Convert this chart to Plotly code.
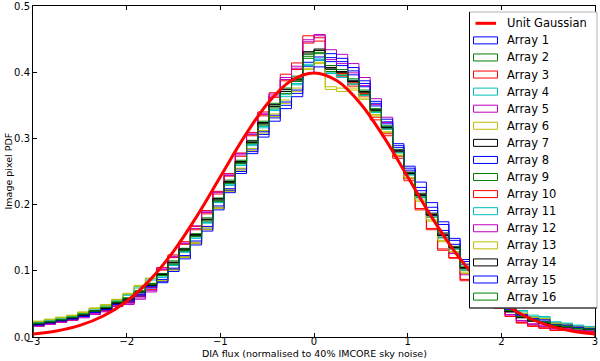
import plotly.graph_objects as go

# ---------- data ----------
BIN_LO, BIN_HI, N_BINS = -3.0, 3.0, 50

GAUSS_X = [-3.0, -2.75, -2.5, -2.25, -2.0, -1.75, -1.5, -1.25, -1.0, -0.75, -0.5, -0.25, 0.0,
           0.25, 0.5, 0.75, 1.0, 1.25, 1.5, 1.75, 2.0, 2.25, 2.5, 2.75, 3.0]
GAUSS_Y = [0.0044, 0.0091, 0.0175, 0.0317, 0.0540, 0.0863, 0.1295, 0.1826, 0.2420, 0.3011, 0.3521, 0.3867, 0.3989,
           0.3867, 0.3521, 0.3011, 0.2420, 0.1826, 0.1295, 0.0863, 0.0540, 0.0317, 0.0175, 0.0091, 0.0044]

ARRAY_1 = [0.019, 0.022, 0.025, 0.028, 0.032, 0.038, 0.042, 0.050, 0.055, 0.064,
           0.076, 0.084, 0.102, 0.121, 0.142, 0.163, 0.195, 0.221, 0.250, 0.280,
           0.306, 0.331, 0.350, 0.368, 0.415, 0.423, 0.422, 0.416, 0.402, 0.383,
           0.353, 0.325, 0.289, 0.255, 0.226, 0.196, 0.174, 0.149, 0.114, 0.088,
           0.070, 0.053, 0.041, 0.032, 0.026, 0.024, 0.018, 0.017, 0.014, 0.012]
ARRAY_2 = [0.020, 0.023, 0.026, 0.029, 0.034, 0.039, 0.044, 0.052, 0.058, 0.068,
           0.079, 0.094, 0.112, 0.132, 0.154, 0.177, 0.207, 0.234, 0.264, 0.294,
           0.322, 0.349, 0.371, 0.389, 0.421, 0.428, 0.404, 0.399, 0.385, 0.369,
           0.342, 0.316, 0.280, 0.246, 0.213, 0.183, 0.153, 0.134, 0.103, 0.085,
           0.068, 0.052, 0.039, 0.031, 0.025, 0.022, 0.017, 0.016, 0.013, 0.012]
ARRAY_3 = [0.018, 0.021, 0.024, 0.027, 0.032, 0.037, 0.041, 0.049, 0.054, 0.063,
           0.075, 0.105, 0.124, 0.144, 0.167, 0.191, 0.220, 0.247, 0.278, 0.309,
           0.340, 0.369, 0.397, 0.414, 0.455, 0.452, 0.410, 0.398, 0.384, 0.368,
           0.332, 0.307, 0.273, 0.239, 0.192, 0.162, 0.131, 0.119, 0.085, 0.071,
           0.057, 0.044, 0.031, 0.022, 0.017, 0.014, 0.010, 0.010, 0.008, 0.007]
ARRAY_4 = [0.023, 0.026, 0.029, 0.032, 0.037, 0.043, 0.048, 0.056, 0.064, 0.076,
           0.088, 0.092, 0.109, 0.129, 0.151, 0.173, 0.204, 0.230, 0.260, 0.291,
           0.318, 0.344, 0.366, 0.383, 0.412, 0.420, 0.400, 0.395, 0.388, 0.366,
           0.340, 0.318, 0.282, 0.248, 0.212, 0.185, 0.150, 0.136, 0.105, 0.100,
           0.080, 0.060, 0.047, 0.040, 0.033, 0.031, 0.023, 0.021, 0.018, 0.016]
ARRAY_5 = [0.016, 0.019, 0.022, 0.025, 0.029, 0.034, 0.038, 0.046, 0.049, 0.057,
           0.068, 0.104, 0.122, 0.142, 0.168, 0.190, 0.219, 0.246, 0.277, 0.308,
           0.338, 0.367, 0.392, 0.409, 0.449, 0.457, 0.434, 0.427, 0.413, 0.392,
           0.360, 0.332, 0.283, 0.249, 0.217, 0.187, 0.157, 0.128, 0.096, 0.075,
           0.060, 0.046, 0.033, 0.024, 0.019, 0.016, 0.012, 0.012, 0.010, 0.008]
ARRAY_6 = [0.024, 0.027, 0.030, 0.033, 0.038, 0.044, 0.049, 0.057, 0.066, 0.078,
           0.081, 0.086, 0.103, 0.122, 0.143, 0.165, 0.196, 0.223, 0.252, 0.282,
           0.308, 0.333, 0.353, 0.371, 0.404, 0.413, 0.374, 0.376, 0.373, 0.359,
           0.334, 0.309, 0.274, 0.240, 0.205, 0.175, 0.144, 0.128, 0.096, 0.093,
           0.074, 0.056, 0.043, 0.035, 0.029, 0.027, 0.020, 0.018, 0.016, 0.014]
ARRAY_7 = [0.020, 0.023, 0.026, 0.029, 0.034, 0.040, 0.044, 0.052, 0.058, 0.069,
           0.080, 0.094, 0.112, 0.131, 0.153, 0.177, 0.207, 0.233, 0.263, 0.294,
           0.322, 0.348, 0.371, 0.388, 0.429, 0.435, 0.407, 0.401, 0.387, 0.371,
           0.343, 0.317, 0.282, 0.248, 0.215, 0.185, 0.155, 0.136, 0.105, 0.084,
           0.067, 0.051, 0.038, 0.030, 0.024, 0.021, 0.016, 0.015, 0.013, 0.011]
ARRAY_8 = [0.019, 0.022, 0.025, 0.028, 0.033, 0.038, 0.042, 0.050, 0.056, 0.065,
           0.077, 0.087, 0.104, 0.123, 0.145, 0.167, 0.198, 0.224, 0.254, 0.284,
           0.310, 0.335, 0.355, 0.373, 0.409, 0.418, 0.416, 0.410, 0.396, 0.378,
           0.349, 0.322, 0.286, 0.252, 0.221, 0.191, 0.161, 0.140, 0.110, 0.086,
           0.069, 0.054, 0.040, 0.033, 0.025, 0.023, 0.019, 0.016, 0.014, 0.013]
ARRAY_9 = [0.021, 0.024, 0.027, 0.030, 0.034, 0.040, 0.045, 0.053, 0.059, 0.070,
           0.081, 0.096, 0.115, 0.134, 0.156, 0.180, 0.210, 0.237, 0.267, 0.297,
           0.326, 0.353, 0.376, 0.394, 0.427, 0.433, 0.401, 0.396, 0.382, 0.366,
           0.340, 0.314, 0.279, 0.245, 0.211, 0.181, 0.150, 0.133, 0.101, 0.083,
           0.068, 0.051, 0.039, 0.030, 0.025, 0.021, 0.017, 0.016, 0.013, 0.012]
ARRAY_10 = [0.017, 0.020, 0.023, 0.026, 0.031, 0.036, 0.040, 0.048, 0.052, 0.061,
            0.072, 0.101, 0.120, 0.140, 0.162, 0.186, 0.216, 0.243, 0.273, 0.304,
            0.334, 0.362, 0.387, 0.404, 0.444, 0.447, 0.398, 0.393, 0.379, 0.364,
            0.328, 0.304, 0.270, 0.236, 0.194, 0.164, 0.133, 0.120, 0.087, 0.070,
            0.056, 0.043, 0.031, 0.021, 0.016, 0.013, 0.010, 0.011, 0.009, 0.008]
ARRAY_11 = [0.022, 0.025, 0.028, 0.031, 0.036, 0.042, 0.047, 0.055, 0.063, 0.074,
            0.086, 0.090, 0.108, 0.128, 0.149, 0.172, 0.203, 0.229, 0.259, 0.289,
            0.316, 0.342, 0.363, 0.381, 0.410, 0.418, 0.398, 0.392, 0.382, 0.365,
            0.339, 0.314, 0.278, 0.245, 0.210, 0.181, 0.150, 0.133, 0.101, 0.097,
            0.078, 0.058, 0.045, 0.038, 0.031, 0.029, 0.022, 0.020, 0.017, 0.015]
ARRAY_12 = [0.017, 0.020, 0.023, 0.026, 0.030, 0.035, 0.039, 0.047, 0.051, 0.059,
            0.070, 0.102, 0.121, 0.141, 0.164, 0.188, 0.218, 0.244, 0.275, 0.306,
            0.336, 0.364, 0.389, 0.406, 0.446, 0.455, 0.419, 0.413, 0.399, 0.380,
            0.351, 0.324, 0.281, 0.247, 0.214, 0.184, 0.154, 0.126, 0.094, 0.076,
            0.061, 0.047, 0.034, 0.025, 0.020, 0.017, 0.013, 0.013, 0.010, 0.009]
ARRAY_13 = [0.023, 0.026, 0.029, 0.032, 0.037, 0.043, 0.048, 0.056, 0.065, 0.077,
            0.089, 0.085, 0.101, 0.120, 0.141, 0.162, 0.194, 0.220, 0.255, 0.285,
            0.312, 0.337, 0.358, 0.376, 0.406, 0.415, 0.378, 0.371, 0.376, 0.361,
            0.336, 0.310, 0.275, 0.241, 0.207, 0.177, 0.146, 0.129, 0.098, 0.094,
            0.075, 0.057, 0.044, 0.036, 0.030, 0.028, 0.021, 0.019, 0.016, 0.014]
ARRAY_14 = [0.019, 0.022, 0.025, 0.028, 0.033, 0.039, 0.043, 0.051, 0.057, 0.067,
            0.078, 0.095, 0.113, 0.133, 0.155, 0.178, 0.209, 0.235, 0.265, 0.296,
            0.324, 0.351, 0.374, 0.391, 0.431, 0.433, 0.405, 0.400, 0.386, 0.370,
            0.343, 0.316, 0.281, 0.247, 0.214, 0.184, 0.153, 0.135, 0.104, 0.085,
            0.066, 0.050, 0.038, 0.029, 0.024, 0.020, 0.016, 0.015, 0.012, 0.011]
ARRAY_15 = [0.018, 0.021, 0.024, 0.027, 0.031, 0.037, 0.041, 0.049, 0.053, 0.062,
            0.074, 0.082, 0.099, 0.118, 0.139, 0.160, 0.192, 0.218, 0.247, 0.277,
            0.302, 0.326, 0.345, 0.363, 0.398, 0.408, 0.428, 0.421, 0.407, 0.387,
            0.356, 0.329, 0.292, 0.258, 0.234, 0.203, 0.170, 0.146, 0.117, 0.091,
            0.073, 0.055, 0.042, 0.034, 0.028, 0.026, 0.019, 0.018, 0.015, 0.013]
ARRAY_16 = [0.021, 0.023, 0.026, 0.030, 0.035, 0.039, 0.045, 0.053, 0.059, 0.068,
            0.080, 0.093, 0.110, 0.130, 0.152, 0.175, 0.205, 0.232, 0.262, 0.292,
            0.320, 0.346, 0.368, 0.386, 0.424, 0.430, 0.410, 0.404, 0.390, 0.373,
            0.345, 0.319, 0.283, 0.249, 0.217, 0.187, 0.157, 0.137, 0.107, 0.086,
            0.069, 0.053, 0.040, 0.031, 0.026, 0.023, 0.018, 0.016, 0.013, 0.012]

ARRAYS = [ARRAY_1, ARRAY_2, ARRAY_3, ARRAY_4, ARRAY_5, ARRAY_6, ARRAY_7, ARRAY_8,
          ARRAY_9, ARRAY_10, ARRAY_11, ARRAY_12, ARRAY_13, ARRAY_14, ARRAY_15, ARRAY_16]
ARRAY_NAMES = [f"Array {i}" for i in range(1, 17)]
GAUSS_NAME = "Unit Gaussian"

# matplotlib classic colour cycle b g r c m y k
CYCLE = ["#0000ff", "#008000", "#ff0000", "#00bfbf", "#bf00bf", "#bfbf00", "#000000"]

X_TICKS = [-3, -2, -1, 0, 1, 2, 3]
Y_TICKS = [0.0, 0.1, 0.2, 0.3, 0.4, 0.5]

# ---------- layout geometry (pixels) ----------
W, H = 600, 361
ML, MR, MT, MB = 33, 5, 6, 24
PW, PH = W - ML - MR, H - MT - MB


def px_x(p):
    return (p - ML) / PW


def px_y(p):
    return (H - MB - p) / PH


def step_outline(values):
    """Closed step outline like matplotlib histtype='step'."""
    w = (BIN_HI - BIN_LO) / N_BINS
    xs, ys = [BIN_LO], [0.0]
    for i, v in enumerate(values):
        x0 = BIN_LO + i * w
        xs += [x0, x0 + w]
        ys += [v, v]
    xs.append(BIN_HI)
    ys.append(0.0)
    return xs, ys


fig = go.Figure()

for i, (name, vals) in enumerate(zip(ARRAY_NAMES, ARRAYS)):
    xs, ys = step_outline(vals)
    fig.add_trace(go.Scatter(
        x=xs, y=ys, mode="lines", name=name,
        line=dict(color=CYCLE[i % 7], width=1),
        showlegend=False, hoverinfo="skip",
    ))

fig.add_trace(go.Scatter(
    x=GAUSS_X, y=GAUSS_Y, mode="lines", name=GAUSS_NAME,
    line=dict(color="#ff0000", width=3, shape="spline"),
    showlegend=False,
))

# ---------- legend box drawn in the matplotlib manner ----------
LEG_L, LEG_R, LEG_T, LEG_B = 469.5, 597, 12, 308
ROW0, ROW_STEP = 23.3, 17.08
shapes = [
    dict(type="rect", xref="paper", yref="paper", layer="above",
         x0=px_x(LEG_L), x1=px_x(LEG_R), y0=px_y(LEG_B), y1=px_y(LEG_T),
         fillcolor="white", line=dict(color="#b4b4b4", width=1)),
    dict(type="line", xref="paper", yref="paper", layer="above",
         x0=px_x(LEG_L), x1=px_x(LEG_L), y0=px_y(LEG_B), y1=px_y(LEG_T),
         line=dict(color="black", width=1)),
    dict(type="line", xref="paper", yref="paper", layer="above",
         x0=px_x(LEG_L), x1=px_x(LEG_R), y0=px_y(LEG_B), y1=px_y(LEG_B),
         line=dict(color="black", width=1)),
]
annotations = []
labels = [GAUSS_NAME] + ARRAY_NAMES
for r, label in enumerate(labels):
    yc = ROW0 + r * ROW_STEP
    if r == 0:
        shapes.append(dict(type="line", xref="paper", yref="paper", layer="above",
                           x0=px_x(475.5), x1=px_x(496), y0=px_y(yc), y1=px_y(yc),
                           line=dict(color="#ff0000", width=3)))
    else:
        shapes.append(dict(type="rect", xref="paper", yref="paper", layer="above",
                           x0=px_x(473.5), x1=px_x(497.5), y0=px_y(yc + 3.5), y1=px_y(yc - 3.5),
                           fillcolor="rgba(0,0,0,0)",
                           line=dict(color=CYCLE[(r - 1) % 7], width=1)))
    annotations.append(dict(xref="paper", yref="paper", x=px_x(505), y=px_y(yc),
                            xanchor="left", yanchor="middle", showarrow=False,
                            text=label, font=dict(size=11.5)))

# axis titles
annotations.append(dict(xref="paper", yref="paper", x=0.5, y=px_y(353),
                        xanchor="center", yanchor="middle", showarrow=False,
                        text="DIA flux (normalised to 40% IMCORE sky noise)",
                        font=dict(size=9.5)))
annotations.append(dict(xref="paper", yref="paper", x=px_x(8), y=0.5,
                        xanchor="center", yanchor="middle", showarrow=False,
                        textangle=-90, text="Image pixel PDF", font=dict(size=9.5)))

axis_common = dict(
    showline=True, linecolor="black", linewidth=1, mirror="ticks",
    ticks="inside", ticklen=4, tickcolor="black",
    showgrid=False, zeroline=False, automargin=False,
)

fig.update_layout(
    width=W, height=H,
    margin=dict(l=ML, r=MR, t=MT, b=MB),
    plot_bgcolor="white", paper_bgcolor="white",
    font=dict(family="DejaVu Sans", size=10, color="black"),
    xaxis=dict(range=[-3, 3], tickvals=X_TICKS, ticklabelstandoff=-5, **axis_common),
    yaxis=dict(range=[0, 0.5], tickvals=Y_TICKS, tickformat=".1f", **axis_common),
    shapes=shapes,
    annotations=annotations,
    showlegend=False,
)

# page body margin would otherwise shift the figure by 8 px
fig.write_html("out.html", config={"displayModeBar": False},
               post_script="document.body.style.margin='0px';")
